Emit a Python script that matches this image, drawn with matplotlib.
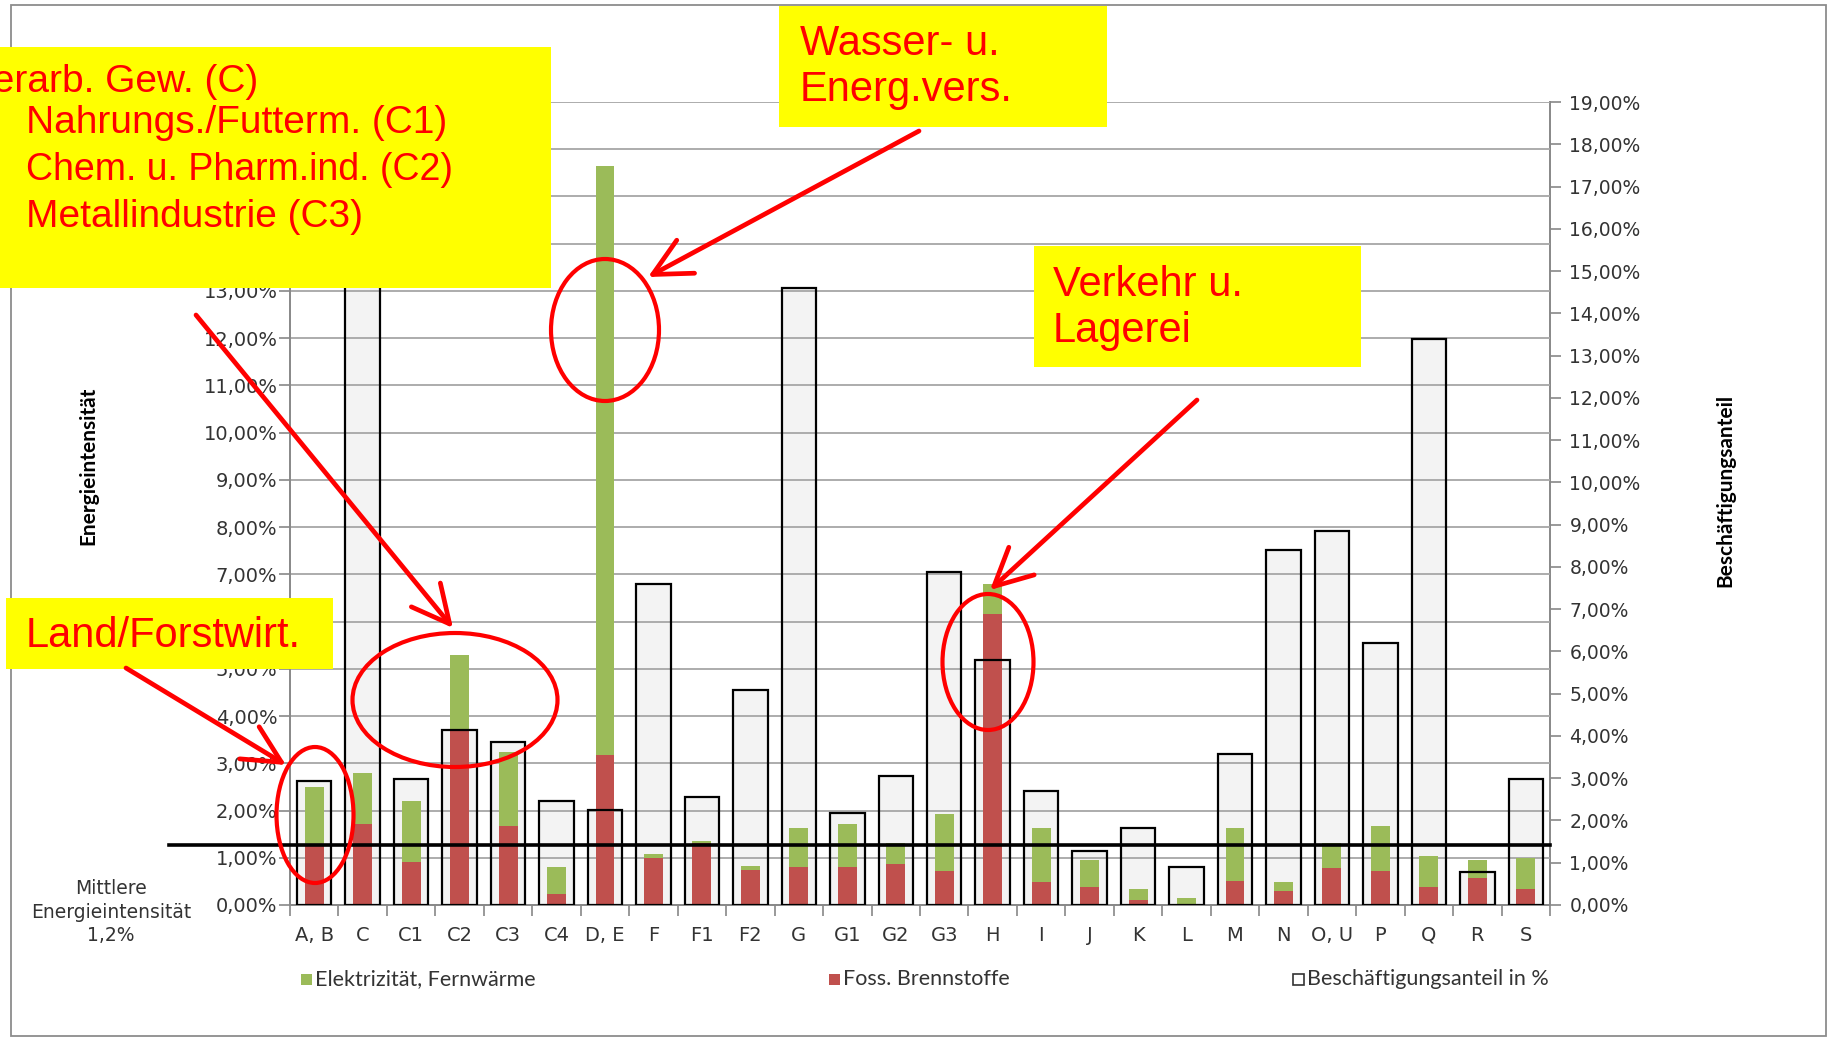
import matplotlib
matplotlib.use("Agg")
import matplotlib.pyplot as plt
from matplotlib.patches import Rectangle, Ellipse, FancyArrowPatch
from matplotlib.ticker import FuncFormatter, MultipleLocator

# Branchen (x-Achse)
categories = ['A, B', 'C', 'C1', 'C2', 'C3', 'C4', 'D, E', 'F', 'F1', 'F2', 'G', 'G1', 'G2',
              'G3', 'H', 'I', 'J', 'K', 'L', 'M', 'N', 'O, U', 'P', 'Q', 'R', 'S']

# Energieintensitaet in % (linke Achse)
foss = [1.29, 1.71, 0.92, 3.73, 1.68, 0.23, 3.17, 1.00, 1.32, 0.75, 0.80, 0.80, 0.87,
        0.71, 6.16, 0.48, 0.39, 0.11, 0.02, 0.51, 0.30, 0.78, 0.71, 0.39, 0.57, 0.34]
elektro = [1.21, 1.08, 1.28, 1.56, 1.55, 0.57, 12.48, 0.09, 0.03, 0.08, 0.82, 0.91, 0.45,
           1.21, 0.64, 1.14, 0.56, 0.23, 0.13, 1.11, 0.18, 0.54, 0.97, 0.64, 0.38, 0.65]

# Beschaeftigungsanteil in % (rechte Achse)
beschaeftigung = [2.94, 16.8, 2.98, 4.13, 3.86, 2.45, 2.25, 7.60, 2.56, 5.08, 14.6, 2.17, 3.05,
                  7.87, 5.80, 2.69, 1.28, 1.83, 0.91, 3.57, 8.39, 8.84, 6.19, 13.4, 0.79, 2.98]

mittel_energie = 1.26

W, H = 1831, 1039
GREEN = '#9bbb59'
RED = '#c0504d'
GREY_FILL = '#f2f2f2'
TXT = '#333333'


def fx(x):
    return x / W


def fy(y):
    return 1 - y / H


def pct(v, _):
    return f"{v:.2f}".replace('.', ',') + '%'


fig = plt.figure(figsize=(W / 100, H / 100), dpi=100)
rect = [fx(290), fy(905), fx(1550) - fx(290), fy(102) - fy(905)]

# rechte Achse: Beschaeftigung (Fuellung), ganz hinten
ax2 = fig.add_axes(rect, zorder=1)
# linke Achse: Energieintensitaet
ax = fig.add_axes(rect, zorder=2)
ax.patch.set_visible(False)
# Umrisse der Beschaeftigungsbalken oben drauf
ax3 = fig.add_axes(rect, zorder=3)
ax3.patch.set_visible(False)

x = list(range(len(categories)))

ax2.bar(x, beschaeftigung, width=0.71, color=GREY_FILL, alpha=0.9, edgecolor='none')
ax.bar(x, foss, width=0.39, color=RED)
ax.bar(x, elektro, width=0.39, bottom=foss, color=GREEN)
ax3.bar(x, beschaeftigung, width=0.71, fill=False, edgecolor='black', linewidth=1.6)

for a in (ax, ax2, ax3):
    a.set_xlim(-0.5, len(categories) - 0.5)
ax.set_ylim(0, 17)
ax2.set_ylim(0, 19)
ax3.set_ylim(0, 19)

# Gitternetz an linker Achse
ax.yaxis.set_major_locator(MultipleLocator(1))
ax.yaxis.set_major_formatter(FuncFormatter(pct))
ax.grid(axis='y', color='#a6a6a6', linewidth=1.3)
ax.set_axisbelow(True)
ax.tick_params(axis='y', direction='out', length=8, width=1.2, color='#888888',
               labelsize=14, labelcolor=TXT, pad=1)
for s in ('top', 'right'):
    ax.spines[s].set_visible(False)
ax.spines['left'].set_color('#888888')
ax.spines['left'].set_linewidth(1.4)
ax.spines['bottom'].set_color('#888888')
ax.spines['bottom'].set_linewidth(1.4)

ax.set_xticks(x)
ax.set_xticklabels(categories)
ax.set_xticks([i - 0.5 for i in range(len(categories) + 1)], minor=True)
ax.tick_params(axis='x', which='major', length=0, labelsize=14, labelcolor=TXT, pad=15)
ax.tick_params(axis='x', which='minor', length=8, width=1.2, color='#888888')

ax2.yaxis.tick_right()
ax2.yaxis.set_major_locator(MultipleLocator(1))
ax2.yaxis.set_major_formatter(FuncFormatter(pct))
ax2.tick_params(axis='y', direction='out', length=8, width=1.2, color='#888888',
                labelsize=13.5, labelcolor=TXT, pad=6)
ax2.set_xticks([])
for s in ('top', 'left', 'bottom'):
    ax2.spines[s].set_visible(False)
ax2.spines['right'].set_color('#888888')
ax2.spines['right'].set_linewidth(1.4)

ax3.axis('off')

# mittlere Energieintensitaet
ax.plot([-0.096, 1.0], [mittel_energie, mittel_energie], color='black', linewidth=2.6,
        transform=ax.get_yaxis_transform(), clip_on=False, zorder=6)

# Achsentitel
fig.text(fx(88), fy(466), 'Energieintensität', rotation=90, ha='center', va='center',
         fontsize=15, fontweight='bold', family='Lato', color='black')
fig.text(fx(1725), fy(490), 'Beschäftigungsanteil', rotation=90, ha='center', va='center',
         fontsize=15, fontweight='bold', family='Lato', color='black')
fig.text(fx(111), fy(912), 'Mittlere\nEnergieintensität\n1,2%', ha='center', va='center',
         fontsize=13.5, color=TXT, linespacing=1.3)

# Legende
leg = [(306, GREEN, 'none', 'Elektrizität, Fernwärme'),
       (834, RED, 'none', 'Foss. Brennstoffe'),
       (1298, 'white', '#333333', 'Beschäftigungsanteil in %')]
for lx, fc, ec, label in leg:
    fig.patches.append(Rectangle((fx(lx - 5), fy(985)), fx(11), 11 / H, transform=fig.transFigure,
                                 facecolor=fc, edgecolor=ec, linewidth=1.2, zorder=5))
    fig.text(fx(lx + 9), fy(979), label, ha='left', va='center', fontsize=15.5,
             family='Lato', color=TXT)

# Rahmen
fig.patches.append(Rectangle((fx(11), fy(1036)), fx(1826) - fx(11), fy(5) - fy(1036),
                             transform=fig.transFigure, fill=False, edgecolor='#8c8c8c',
                             linewidth=1.3, zorder=0))

# gelbe Kaesten
boxes = [(0, 47, 551, 288), (779, 6, 1107, 127), (1034, 246, 1361, 367), (6, 598, 333, 669)]
for x0, y0, x1, y1 in boxes:
    fig.patches.append(Rectangle((fx(x0), fy(y1)), fx(x1 - x0), (y1 - y0) / H,
                                 transform=fig.transFigure, facecolor='#ffff00',
                                 edgecolor='none', zorder=10))

red_kw = dict(color='#ff0000', family='Liberation Sans', ha='left', va='center', zorder=11)
fig.text(fx(-31), fy(82), 'Verarb. Gew. (C)', fontsize=28, **red_kw)
fig.text(fx(26), fy(123), 'Nahrungs./Futterm. (C1)', fontsize=28, **red_kw)
fig.text(fx(26), fy(170), 'Chem. u. Pharm.ind. (C2)', fontsize=27, **red_kw)
fig.text(fx(26), fy(217), 'Metallindustrie (C3)', fontsize=28, **red_kw)
fig.text(fx(800), fy(67), 'Wasser- u.\nEnerg.vers.', fontsize=30, linespacing=1.2, **red_kw)
fig.text(fx(1053), fy(308), 'Verkehr u.\nLagerei', fontsize=30, linespacing=1.2, **red_kw)
fig.text(fx(26), fy(636), 'Land/Forstwirt.', fontsize=30, **red_kw)

# Ellipsen
ellipses = [(315, 815, 77, 136), (455, 700, 205, 134), (605, 330, 108, 142), (988, 662, 91, 136)]
for cx, cy, ew, eh in ellipses:
    fig.patches.append(Ellipse((fx(cx), fy(cy)), fx(ew), eh / H, transform=fig.transFigure,
                               fill=False, edgecolor='#ff0000', linewidth=3, zorder=12))

# Pfeile
arrows = [((126, 668), (286, 765)), ((196, 315), (453, 628)),
          ((919, 131), (648, 277)), ((1197, 400), (990, 590))]
for (x0, y0), (x1, y1) in arrows:
    fig.patches.append(FancyArrowPatch((fx(x0), fy(y0)), (fx(x1), fy(y1)),
                                       transform=fig.transFigure,
                                       arrowstyle='->,head_length=0.9,head_width=0.45',
                                       mutation_scale=30, color='#ff0000', linewidth=3.4,
                                       shrinkA=0, shrinkB=0, zorder=12))

fig.savefig('out.png', dpi=100)
